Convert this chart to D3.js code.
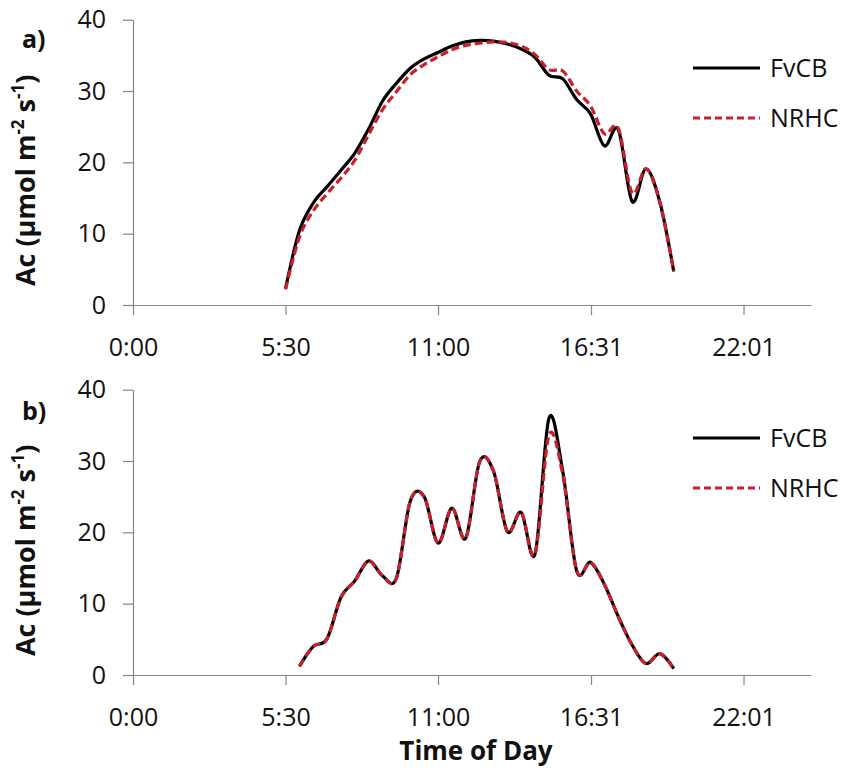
<!DOCTYPE html>
<html>
<head>
<meta charset="utf-8">
<script src="https://cdn.jsdelivr.net/npm/d3@7"></script>
<style>
  html, body { margin: 0; padding: 0; background: #fff; }
  svg { display: block; font-family: "Open Sans", "Noto Sans", sans-serif; }
</style>
</head>
<body>
<svg id="chart" width="845" height="770"></svg>
<script>
// Time of day (hours) at which Ac was computed
const hoursA = [5.5, 6, 6.5, 7, 7.5, 8, 8.5, 9, 9.5, 10, 10.5, 11, 11.5, 12, 12.5, 13, 13.5,
                14, 14.5, 15, 15.5, 16, 16.5, 17, 17.5, 18, 18.5, 19, 19.5];
const fvcbA  = [2.3, 10.4, 14.3, 16.6, 18.9, 21.3, 24.7, 28.6, 31.1, 33.2, 34.5, 35.4, 36.3, 36.9, 37.1, 37.0, 36.6,
                35.9, 34.7, 32.2, 31.7, 28.8, 26.8, 22.3, 24.6, 14.5, 19.1, 14.4, 4.7];
const nrhcA  = [2.2, 9.5, 13.2, 15.6, 17.8, 20.3, 23.9, 27.4, 29.9, 32.3, 33.7, 34.8, 35.8, 36.4, 36.7, 36.9, 36.8,
                36.3, 35.1, 33.0, 32.8, 30.0, 27.9, 24.0, 24.8, 15.7, 19.1, 14.4, 4.8];

const hoursB = [6, 6.5, 7, 7.5, 8, 8.5, 9, 9.5, 10, 10.5, 11, 11.5, 12, 12.5, 13, 13.5,
                14, 14.5, 15, 15.5, 16, 16.5, 17, 17.5, 18, 18.5, 19, 19.5];
const fvcbB  = [1.2, 4.0, 5.1, 10.9, 13.2, 16.0, 13.9, 13.6, 24.4, 25.0, 18.5, 23.4, 19.2, 29.9, 28.6, 20.1,
                22.8, 17.0, 36.0, 28.5, 14.6, 15.8, 12.7, 8.2, 4.2, 1.6, 3.0, 0.9];
const nrhcB  = [1.2, 4.0, 5.1, 10.9, 13.2, 16.0, 13.9, 13.6, 24.4, 25.0, 18.5, 23.4, 19.2, 29.9, 28.6, 20.1,
                22.8, 17.0, 33.6, 28.0, 14.6, 15.8, 12.7, 8.2, 4.2, 1.6, 3.0, 0.9];

// Axis ticks
const xTickHours  = [0, 5.5, 11, 16.517, 22.017];
const xTickLabels = ["0:00", "5:30", "11:00", "16:31", "22:01"];
const yTicks      = [0, 10, 20, 30, 40];
const seriesNames = ["FvCB", "NRHC"];
const panelNames  = ["a)", "b)"];

const svg = d3.select("#chart");
const AXIS = "#868686";
const RED = "#c8202c";

const x = d3.scaleLinear().domain([0, 24.45]).range([133, 811]);

const panels = [
  { label: panelNames[0], hours: hoursA, fvcb: fvcbA, nrhc: nrhcA, top: 19.7, bottom: 305, labelY: 48, legendY: 68 },
  { label: panelNames[1], hours: hoursB, fvcb: fvcbB, nrhc: nrhcB, top: 389.7, bottom: 675, labelY: 420, legendY: 438 }
];

panels.forEach(p => {
  const y = d3.scaleLinear().domain([0, 40]).range([p.bottom, p.top]);
  const g = svg.append("g");

  // y axis
  const ya = g.append("g").attr("transform", `translate(${x(0)},0)`)
    .call(d3.axisLeft(y).tickValues(yTicks).tickSize(10).tickSizeOuter(0).tickPadding(17));
  // x axis
  const xa = g.append("g").attr("transform", `translate(0,${p.bottom})`)
    .call(d3.axisBottom(x).tickValues(xTickHours).tickFormat((d, i) => xTickLabels[i])
      .tickSize(10).tickSizeOuter(0).tickPadding(23));
  [ya, xa].forEach(a => {
    a.select(".domain").attr("stroke", AXIS).attr("stroke-width", 1.2);
    a.selectAll(".tick line").attr("stroke", AXIS).attr("stroke-width", 1.2);
    a.selectAll(".tick text").attr("fill", "#111").attr("font-size", 25)
      .attr("font-family", "'Open Sans', sans-serif");
  });

  // y axis title
  const mid = (p.top + p.bottom) / 2 + 18;
  const t = g.append("text")
    .attr("transform", `translate(35,${mid}) rotate(-90)`)
    .attr("text-anchor", "middle").attr("font-weight", "bold").attr("font-size", 27).attr("fill", "#111");
  t.append("tspan").text("Ac (µmol m");
  t.append("tspan").attr("baseline-shift", "super").attr("font-size", 17).text("-2");
  t.append("tspan").text(" s");
  t.append("tspan").attr("baseline-shift", "super").attr("font-size", 17).text("-1");
  t.append("tspan").text(")");

  // panel tag
  g.append("text").attr("x", 22).attr("y", p.labelY)
    .attr("font-weight", "bold").attr("font-size", 25).attr("fill", "#111").text(p.label);

  // series lines
  const line = (vals) => d3.line()
    .x((d, i) => x(p.hours[i]))
    .y(d => y(d))
    .curve(d3.curveCardinal.tension(0))(vals);

  g.append("path").attr("d", line(p.fvcb)).attr("fill", "none")
    .attr("stroke", "#000").attr("stroke-width", 3.2).attr("stroke-linejoin", "round");
  g.append("path").attr("d", line(p.nrhc)).attr("fill", "none")
    .attr("stroke", RED).attr("stroke-width", 3.2).attr("stroke-dasharray", "8,4");

  // legend
  const lg = g.append("g");
  [{ name: seriesNames[0], color: "#000", dash: null },
   { name: seriesNames[1], color: RED, dash: "7,4" }].forEach((s, i) => {
    const ly = p.legendY + i * 50;
    lg.append("line").attr("x1", 693).attr("x2", 760).attr("y1", ly).attr("y2", ly)
      .attr("stroke", s.color).attr("stroke-width", 3.2).attr("stroke-dasharray", s.dash);
    lg.append("text").attr("x", 770).attr("y", ly).attr("dy", "0.35em")
      .attr("font-size", 25).attr("fill", "#111").text(s.name);
  });
});

// shared x axis title
svg.append("text").attr("x", 476).attr("y", 760).attr("text-anchor", "middle")
  .attr("font-weight", "bold").attr("font-size", 26).attr("fill", "#111").text("Time of Day");
</script>
</body>
</html>
